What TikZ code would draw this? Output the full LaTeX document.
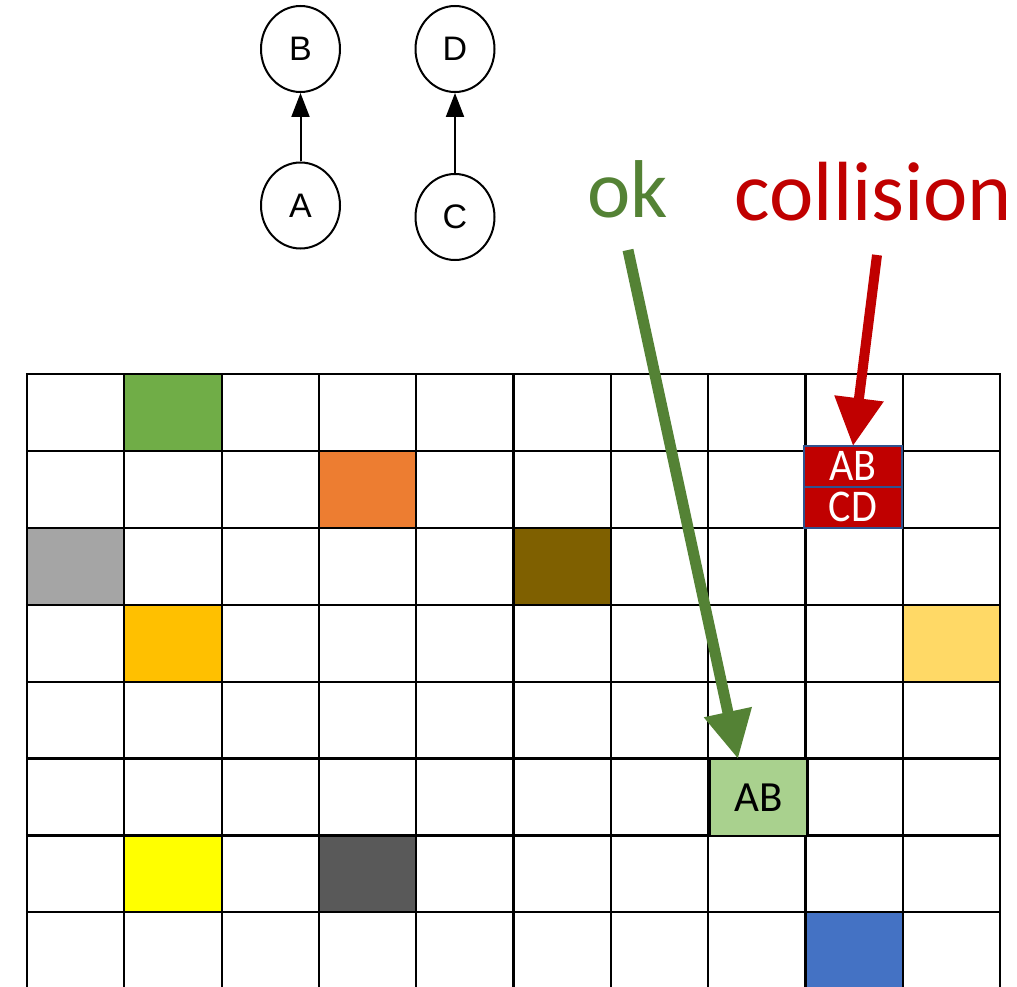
\documentclass[tikz,border=0pt]{standalone}
\usepackage{fontspec}
\setmainfont{Liberation Sans}
\newfontfamily\calib{Carlito}
\usepackage{graphicx}
\usetikzlibrary{arrows.meta,positioning,shapes.geometric}
\definecolor{cgreen}{HTML}{70AD47}
\definecolor{corange}{HTML}{ED7D31}
\definecolor{cgray}{HTML}{A5A5A5}
\definecolor{cbrown}{HTML}{7F6000}
\definecolor{cgold}{HTML}{FFC000}
\definecolor{clight}{HTML}{FFD966}
\definecolor{cyellow}{HTML}{FFFF00}
\definecolor{cdark}{HTML}{595959}
\definecolor{cblue}{HTML}{4472C4}
\definecolor{okgreen}{HTML}{548235}
\definecolor{okfill}{HTML}{A9D18E}
\definecolor{colred}{HTML}{C00000}
\definecolor{edgeblue}{HTML}{2F528F}

\begin{document}
\begin{tikzpicture}[x=1pt,y=-1pt,>=Latex]
  \tikzstyle{vertex}=[draw,ellipse,line width=2pt,minimum width=79pt,minimum height=86pt,inner sep=0pt,font=\fontsize{34}{34}\selectfont]
  \tikzstyle{slot}=[line width=2.2pt,minimum width=97.3pt,minimum height=76.9pt,inner sep=0pt,anchor=north west]
  \tikzstyle{half}=[draw=edgeblue,fill=colred,line width=2pt,minimum width=98pt,minimum height=40.5pt,inner sep=0pt,anchor=north west,text=white,font=\calib\fontsize{42}{42}\selectfont]
  \tikzstyle{edge}=[line width=2pt,-{Triangle[width=18pt,length=24pt]}]
  \useasboundingbox (0,0) rectangle (1017,987);
  \node[vertex] (B) at (300.5,49) {B};
  \node[vertex] (A) at (300.5,205.5) {A};
  \node[vertex] (D) at (455,49) {D};
  \node[vertex] (C) at (455,217) {C};
  \draw[edge] (A) -- (B);
  \draw[edge] (C) -- (D);
  \foreach \c/\r/\col in {1/0/cgreen,3/1/corange,0/2/cgray,5/2/cbrown,1/3/cgold,9/3/clight,1/6/cyellow,3/6/cdark,8/7/cblue}
    \fill[\col] (27+97.3*\c,374+76.9*\r) rectangle ++(97.3,76.9);
  \foreach \i in {0,...,10}
    \draw[line width=2.2pt] (27+97.3*\i,374) -- (27+97.3*\i,987);
  \foreach \j in {0,...,7}
    \draw[line width=2.2pt] (25.9,374+76.9*\j) -- (1001.1,374+76.9*\j);
  \node[slot,draw,fill=okfill,font=\calib\fontsize{43}{43}\selectfont] (okcell) at (709,758) {AB};
  \node[half] (ab) at (803,445) {\scalebox{1}[1.08]{AB}};
  \node[half] (cd) at (803,486) {\scalebox{1}[1.08]{CD}};
  \node[anchor=base,text=okgreen,font=\calib\fontsize{82}{82}\selectfont] (ok) at (628,218) {ok};
  \node[anchor=base,text=colred,font=\calib\fontsize{84}{84}\selectfont] (coll) at (873.5,221) {collision};
  \coordinate (okstart) at (628,250);
  \coordinate (collstart) at (877,255);
  \draw[okgreen,line width=11pt,-{Triangle[width=46pt,length=48pt]}] (okstart) -- ([xshift=29pt,yshift=-1pt]okcell.north west);
  \draw[colred,line width=10pt,-{Triangle[width=47pt,length=48pt]}] (collstart) -- ([yshift=-1pt]ab.north);
\end{tikzpicture}
\end{document}
